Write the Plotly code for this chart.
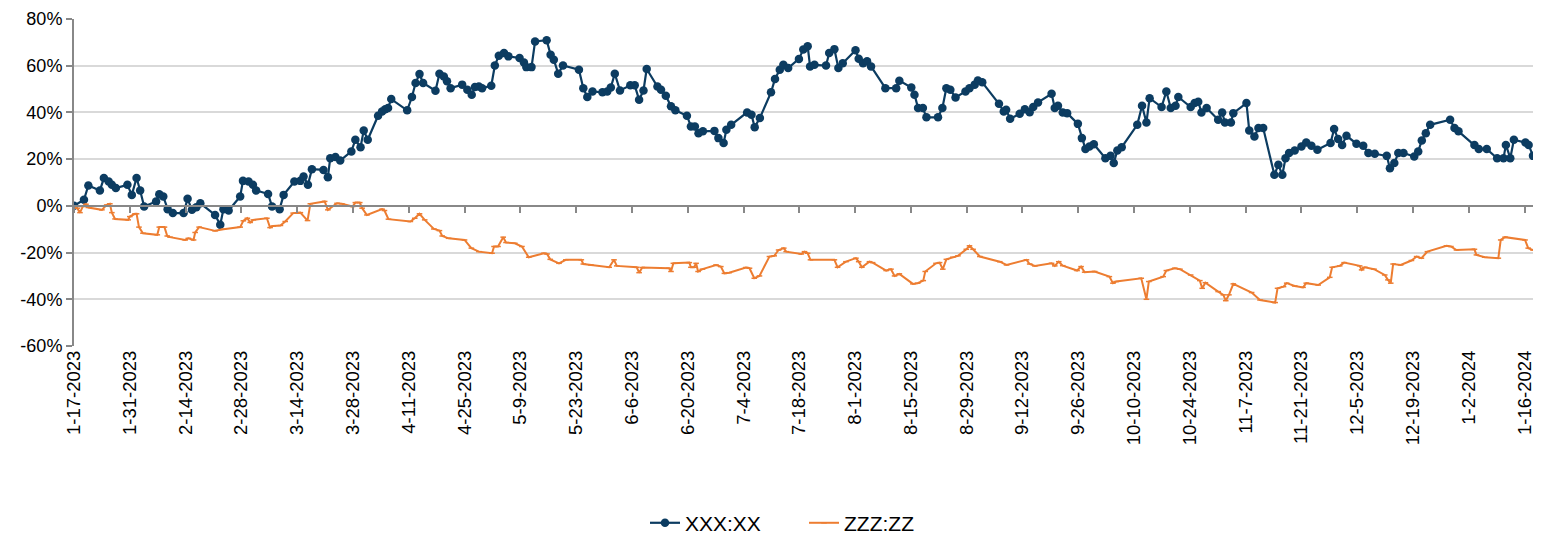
import pandas as pd
import plotly.graph_objects as go

start = pd.Timestamp("2023-01-17")

# XXX:XX series: (day offset from 1-17-2023, % value)
xxx_days = [0.0, 2.5, 3.6, 6.5, 7.5, 8.7, 9.5, 10.5, 13.4, 14.5, 15.7, 16.6, 17.6, 20.6, 21.4, 22.4, 23.5, 24.8,
            27.5, 28.5, 29.6, 30.7, 31.7, 35.4, 36.7, 37.5, 38.8, 41.7, 42.4, 43.8, 44.9, 45.7, 48.7, 49.7, 51.6,
            52.6, 55.3, 56.8, 57.6, 58.7, 59.7, 62.6, 63.7, 64.3, 65.6, 66.8, 69.6, 70.6, 71.9, 72.7, 73.7, 76.3,
            77.3, 78.1, 78.8, 79.6, 83.6, 84.8, 85.7, 86.7, 87.6, 90.7, 91.7, 92.8, 93.6, 94.5, 97.4, 98.7, 99.8,
            100.6, 101.6, 102.4, 104.7, 105.6, 106.6, 107.9, 109.0, 111.8, 112.9, 113.5, 114.8, 115.7, 118.6,
            119.6, 120.4, 121.5, 122.7, 126.7, 127.8, 128.8, 130.1, 132.6, 133.8, 134.7, 135.7, 137.0, 139.6,
            140.7, 141.8, 142.9, 143.7, 146.4, 147.3, 148.5, 149.8, 150.9, 153.8, 154.8, 155.8, 156.7, 157.8,
            160.7, 161.7, 163.0, 163.7, 164.9, 168.9, 170.0, 170.8, 172.1, 174.9, 175.9, 177.1, 178.0, 179.2,
            181.9, 183.0, 184.1, 184.7, 185.8, 188.7, 189.5, 190.8, 191.8, 192.9, 196.1, 196.9, 198.0, 199.0,
            200.0, 203.6, 206.3, 207.1, 210.1, 210.9, 211.8, 213.0, 213.9, 216.8, 217.9, 218.9, 219.9, 221.2,
            223.7, 224.7, 226.0, 226.8, 227.9, 232.1, 233.3, 233.9, 234.9, 237.3, 238.6, 239.8, 240.7, 241.9,
            245.3, 246.1, 246.9, 248.1, 249.2, 251.9, 252.9, 253.8, 254.8, 255.9, 258.8, 260.1, 260.9, 261.8,
            262.9, 266.8, 268.0, 269.1, 269.9, 272.9, 274.1, 275.2, 276.4, 277.1, 280.2, 281.2, 282.1, 282.9,
            284.2, 287.1, 288.1, 288.8, 290.3, 290.9, 294.2, 294.9, 296.2, 297.2, 298.4, 301.2, 302.2, 303.2,
            304.0, 304.9, 306.3, 308.0, 309.2, 310.5, 312.0, 315.3, 316.2, 317.2, 318.2, 319.3, 321.8, 323.5,
            324.8, 326.4, 329.4, 330.2, 331.3, 332.3, 333.6, 336.3, 337.3, 338.2, 339.2, 340.3, 345.3, 346.4,
            347.4, 351.4, 352.5, 354.5, 357.1, 358.7, 359.3, 360.4, 361.3, 364.2, 365.0, 366.1]
xxx_vals = [0.0, 2.6, 8.7, 6.6, 11.9, 10.4, 9.0, 7.6, 9.0, 4.7, 11.9, 6.6, -0.3, 1.9, 5.0, 4.0, -1.4, -3.1,
            -3.1, 3.0, -1.7, -0.6, 1.1, -3.9, -8.1, -1.4, -2.0, 4.0, 10.7, 10.4, 9.0, 6.6, 5.1, -0.3, -1.4,
            4.7, 10.4, 10.7, 12.6, 9.0, 15.7, 15.4, 12.3, 20.4, 20.9, 19.4, 23.3, 28.3, 25.1, 32.3, 28.3, 38.6,
            40.4, 41.4, 41.9, 45.7, 40.9, 46.6, 52.6, 56.4, 52.6, 49.3, 56.6, 55.4, 53.3, 50.4, 51.9, 49.7, 47.6,
            50.9, 51.1, 50.4, 51.4, 60.1, 64.3, 65.4, 64.0, 63.3, 61.4, 59.4, 59.4, 70.4, 70.9,
            64.7, 62.6, 56.6, 60.1, 58.3, 50.4, 46.6, 49.0, 48.6, 49.0, 50.7, 56.6, 49.4, 51.6,
            51.6, 45.4, 49.4, 58.6, 51.1, 49.7, 47.1, 42.6, 40.9, 38.6, 34.0, 34.0, 31.1, 31.9,
            32.1, 29.0, 26.9, 32.6, 34.7, 40.0, 39.0, 33.7, 37.6, 48.6, 54.3, 58.3, 60.4, 59.0,
            62.9, 66.9, 68.3, 59.7, 60.4, 60.1, 65.4, 67.1, 59.0, 61.1, 66.6, 63.0, 61.1, 61.9,
            59.7, 50.4, 50.4, 53.6, 50.7, 47.6, 41.9, 41.9, 37.9, 37.9, 41.9, 50.4, 49.7, 46.4,
            49.0, 50.4, 51.9, 53.7, 52.9, 43.7, 40.4, 41.1, 37.3, 39.4, 41.4, 40.1, 42.3, 44.3,
            48.0, 41.9, 42.9, 40.0, 39.7, 35.1, 29.0, 24.3, 25.4, 26.4, 20.4, 21.4, 18.3, 23.7,
            25.1, 34.7, 42.9, 35.7, 46.1, 42.3, 49.0, 41.9, 42.9, 46.6, 42.3, 44.0, 44.6, 40.0,
            41.9, 36.9, 40.0, 35.7, 35.7, 39.7, 44.0, 32.3, 29.7, 33.3, 33.3, 13.3, 17.6, 13.3,
            20.4, 22.6, 23.7, 25.4, 27.1, 25.7, 24.0, 26.9, 32.9, 28.6, 26.1, 30.0, 26.6, 25.7,
            22.6, 22.3, 21.4, 16.1, 18.3, 22.6, 22.6, 21.1, 23.3, 28.0, 31.1, 34.7, 36.9, 33.3,
            31.9, 26.1, 24.3, 24.3, 20.4, 20.4, 26.1, 20.4, 28.3, 27.1, 26.1, 21.4]

# ZZZ:ZZ series
zzz_days = [0.0, 0.8, 1.5, 2.2, 3.0, 3.6, 7.0, 8.2, 9.0, 9.5, 10.3, 13.6, 14.0, 15.3, 15.7, 16.3, 17.3, 20.9,
            21.4, 22.7, 23.4, 24.1, 27.9, 28.7, 30.0, 30.4, 31.4, 35.4, 37.5, 41.7, 42.5, 43.5, 44.2, 45.0, 48.4,
            49.2, 50.0, 51.8, 53.0, 55.0, 56.8, 58.6, 59.3, 62.9, 63.7, 66.0, 67.2, 69.9, 70.6, 71.7, 72.3,
            73.5, 77.3, 77.9, 78.9, 84.4, 85.5, 86.7, 88.0, 90.3, 91.7, 92.4, 94.0, 98.0, 99.7, 101.6, 104.9,
            105.4, 106.4, 107.7, 108.4, 110.6, 112.4, 114.1, 117.9, 118.7, 119.5, 121.7, 123.4, 127.3, 127.8,
            129.7, 134.3, 135.5, 136.2, 141.2, 141.8, 142.6, 149.3, 149.8, 150.4, 154.4, 154.8, 155.6, 156.1,
            156.6, 157.7, 161.1, 162.3, 163.2, 164.4, 168.6, 169.5, 170.7, 172.0, 174.5, 175.7, 176.8, 178.1,
            178.7, 182.5, 183.3, 184.1, 184.8, 190.8, 191.6, 193.7, 196.2, 196.9, 197.7, 199.6, 200.4, 203.8,
            205.0, 205.9, 207.1, 210.5, 211.7, 213.1, 213.6, 216.3, 217.2, 218.0, 218.9, 220.5, 221.8, 223.9,
            224.7, 225.6, 227.3, 232.3, 234.0, 239.0, 239.8, 241.1, 245.3, 246.1, 247.1, 248.1, 251.7, 252.7,
            253.6, 256.1, 259.8, 260.7, 261.5, 267.8, 269.1, 269.7, 273.3, 274.1, 276.2, 277.5, 280.2, 282.5,
            283.1, 283.9, 287.1, 288.4, 289.0, 289.8, 290.9, 295.5, 297.6, 301.4, 302.0, 303.5, 304.3, 306.3,
            308.4, 309.2, 312.2, 315.1, 315.7, 317.6, 318.7, 322.6, 323.1, 323.9, 326.2, 328.9, 329.7, 330.4,
            331.0, 332.9, 335.6, 336.9, 338.1, 339.6, 344.4, 345.5, 346.9, 351.4, 351.9, 354.0, 357.4, 358.0,
            359.1, 364.1, 364.9, 366.1]
zzz_vals = [0.0, -1.0, -2.9, -0.3, 0.7, -0.7, -1.7, 0.4, 0.9, -2.9, -5.6, -6.0, -4.6, -3.4, -3.4, -9.1, -11.7, -12.4,
            -9.1, -9.1, -12.9, -13.4, -14.6, -13.9, -14.6, -11.4, -9.1, -10.7, -10.0, -9.1, -6.4, -5.3, -7.1, -6.0, -5.3,
            -9.3, -8.6, -8.4, -6.7, -3.1, -2.9, -6.3, 0.9, 1.9, -1.7, 1.1, 0.9, -0.3, 1.4, 1.4, -1.0,
            -3.9, -1.4, -2.0, -5.7, -6.7, -5.3, -3.4, -6.0, -9.9, -10.6, -12.9, -13.9, -14.6, -18.1, -19.6, -20.3,
            -17.4, -17.4, -13.4, -15.7, -16.0, -17.4, -22.0, -20.3, -20.6, -22.9, -24.6, -23.1, -23.1, -24.9,
            -25.3, -26.3, -23.1, -25.7, -26.3, -28.6, -26.4, -26.7, -28.1, -24.6, -24.3, -26.3, -26.3, -24.6,
            -28.1, -27.1, -25.3, -26.0, -28.9, -28.6, -26.4, -26.7, -31.0, -30.0, -21.7, -21.4, -18.9, -18.1,
            -19.6, -20.6, -19.6, -20.3, -23.1, -23.1, -26.3, -23.9, -22.4, -23.9, -26.3, -23.9, -24.3, -27.7,
            -27.1, -30.0, -29.1, -33.4, -33.1, -32.0, -28.1, -24.6, -24.3, -27.1, -22.9, -22.0, -21.4, -18.6,
            -17.1, -18.6, -21.7, -23.9, -25.3, -23.1, -24.9, -25.7, -24.6, -25.7, -23.9, -25.6, -27.7, -26.0,
            -28.4, -28.1, -30.3, -33.1, -32.4, -31.0, -40.0, -32.4, -30.3, -27.7, -26.7, -27.1, -29.6, -32.0,
            -35.3, -32.9, -36.7, -38.1, -40.6, -38.1, -33.4, -37.1, -40.3, -41.4, -35.3, -34.6, -33.1, -34.3,
            -34.9, -33.1, -33.9, -30.6, -26.3, -25.7, -24.3, -25.7, -27.4, -26.3, -27.1, -29.6, -31.7, -33.1,
            -24.9, -25.3, -23.4, -21.7, -22.4, -19.6, -17.1, -17.4, -18.9, -18.6, -21.0, -22.0, -22.4, -14.6,
            -13.4, -14.6, -18.1, -18.9]

series_names = ["XXX:XX", "ZZZ:ZZ"]
y_ticks = [-60, -40, -20, 0, 20, 40, 60, 80]
y_labels = [f"{v}%" for v in y_ticks]
end_day = 366.1

BLUE = "#0c3c61"
ORANGE = "#ed7d31"
FONT = "Liberation Sans, Arial, sans-serif"

xxx_dates = start + pd.to_timedelta(xxx_days, unit="D")
zzz_dates = start + pd.to_timedelta(zzz_days, unit="D")
x_end = start + pd.to_timedelta(end_day, unit="D")

fig = go.Figure()
fig.add_trace(go.Scatter(
    x=xxx_dates, y=xxx_vals, name=series_names[0], mode="lines+markers",
    line=dict(color=BLUE, width=2.2),
    marker=dict(symbol="circle", size=8.5, color=BLUE),
))
fig.add_trace(go.Scatter(
    x=zzz_dates, y=zzz_vals, name=series_names[1], mode="lines+markers",
    line=dict(color=ORANGE, width=2),
    marker=dict(symbol="line-ew", size=4, color=ORANGE, line=dict(color=ORANGE, width=1.5)),
))
# invisible trace to activate the overlay axis drawn at y=0
fig.add_trace(go.Scatter(x=[start], y=[0], xaxis="x2", mode="markers",
                         marker=dict(opacity=0), showlegend=False, hoverinfo="skip"))

x_range = [start, x_end]
dtick = 14 * 24 * 3600 * 1000

fig.update_layout(
    width=1543, height=536,
    margin=dict(l=74, r=10, t=19, b=190),
    paper_bgcolor="white", plot_bgcolor="white",
    font=dict(family=FONT, size=18, color="#000000"),
    showlegend=True,
    legend=dict(orientation="h", xref="container", yref="container", x=645 / 1543, xanchor="left",
                y=0.024, yanchor="middle", font=dict(size=21, family=FONT), traceorder="normal",
                entrywidth=114, entrywidthmode="pixels"),
    xaxis=dict(
        type="date", range=x_range, tick0=start, dtick=dtick, tickformat="%-m-%-d-%Y",
        tickangle=-90, showgrid=False, zeroline=False, showline=False, ticks="",
        tickfont=dict(size=18.5), automargin=False,
    ),
    xaxis2=dict(
        type="date", range=x_range, tick0=start, dtick=dtick, overlaying="x", anchor="free",
        position=60 / 140, showline=True, linecolor="#888888", linewidth=2,
        ticks="outside", ticklen=6, tickwidth=2, tickcolor="#888888",
        showticklabels=False, showgrid=False, zeroline=False, automargin=False,
    ),
    yaxis=dict(
        range=[-60, 80], tickvals=y_ticks, ticktext=y_labels, showgrid=True, gridcolor="#d9d9d9",
        gridwidth=2, zeroline=False, showline=True, linecolor="#888888", linewidth=2,
        ticks="outside", ticklen=6, tickwidth=2, tickcolor="#888888", tickfont=dict(size=18),
        automargin=False,
    ),
)

fig.write_html(
    "out.html",
    config={"displayModeBar": False},
    post_script="document.body.style.margin='0';document.body.style.overflow='hidden';",
)
